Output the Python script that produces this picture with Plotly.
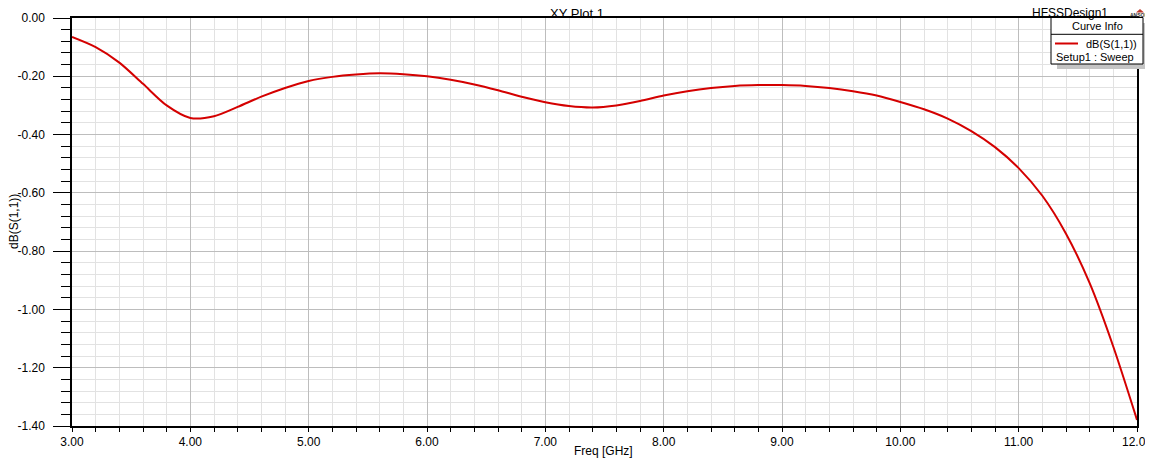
import plotly.graph_objects as go

# ---- data ----
freq_ghz = [3.0, 3.2, 3.4, 3.6, 3.8, 4.0, 4.2, 4.4, 4.6, 4.8, 5.0, 5.2, 5.4, 5.6, 5.8,
            6.0, 6.2, 6.4, 6.6, 6.8, 7.0, 7.2, 7.4, 7.6, 7.8, 8.0, 8.2, 8.4, 8.6, 8.8,
            9.0, 9.2, 9.4, 9.6, 9.8, 10.0, 10.2, 10.4, 10.6, 10.8, 11.0, 11.2, 11.4,
            11.6, 11.8, 12.0]
db_s11 = [-0.065, -0.100, -0.153, -0.226, -0.300, -0.343, -0.337, -0.305, -0.270,
          -0.240, -0.216, -0.202, -0.194, -0.190, -0.193,
          -0.200, -0.212, -0.228, -0.248, -0.270, -0.289, -0.302, -0.307, -0.300,
          -0.285, -0.266, -0.251, -0.240, -0.233, -0.230,
          -0.230, -0.233, -0.240, -0.251, -0.266, -0.288, -0.313, -0.345, -0.388,
          -0.443, -0.515, -0.610, -0.740, -0.910, -1.128, -1.379]
x_ticks = [3, 4, 5, 6, 7, 8, 9, 10, 11, 12]
y_ticks = [0.0, -0.2, -0.4, -0.6, -0.8, -1.0, -1.2, -1.4]

W, H = 1153, 461
OFF = 8  # page body margin in the browser
ML, MR, MT, MB = 64, 24, 10, 43
PW, PH = W - ML - MR, H - MT - MB
FONT = "Arial, Liberation Sans, sans-serif"
RED = "#d40000"


def px(xs):
    # screenshot x pixel -> paper coordinate
    return (xs - OFF - ML) / PW


def py(ys):
    # screenshot y pixel -> paper coordinate
    return (H - MB - (ys - OFF)) / PH


fig = go.Figure()
fig.add_trace(go.Scatter(x=freq_ghz, y=db_s11, mode="lines",
                         line=dict(color=RED, width=2, shape="spline", smoothing=0.8),
                         showlegend=False, hoverinfo="x+y"))

fig.update_layout(
    width=W, height=H,
    margin=dict(l=ML, r=MR, t=MT, b=MB, pad=0, autoexpand=False),
    paper_bgcolor="white", plot_bgcolor="white",
    font=dict(family=FONT, size=12, color="black"),
    showlegend=False,
)
fig.update_xaxes(
    range=[3, 12], tickvals=x_ticks, ticktext=[f"{v:.2f}" for v in x_ticks],
    automargin=False,
    showline=True, linecolor="black", linewidth=1.5, mirror=True,
    ticks="outside", ticklen=4, tickcolor="black", tickwidth=1,
    showgrid=True, gridcolor="#bdbdbd", gridwidth=1, zeroline=False,
    minor=dict(dtick=0.2, ticks="outside", ticklen=4, tickcolor="black",
               showgrid=True, gridcolor="#e2e2e2", gridwidth=1),
    tickfont=dict(size=12),
)
fig.update_yaxes(
    range=[-1.4, 0], tickvals=y_ticks, ticktext=[f"{v:.2f}" for v in y_ticks],
    automargin=False,
    showline=True, linecolor="black", linewidth=1.5, mirror=True,
    ticks="outside", ticklen=17, tickcolor="black", tickwidth=1,
    ticklabelstandoff=6,
    showgrid=True, gridcolor="#bdbdbd", gridwidth=1, zeroline=False,
    minor=dict(dtick=0.04, ticks="outside", ticklen=9, tickcolor="black",
               showgrid=True, gridcolor="#e2e2e2", gridwidth=1),
    tickfont=dict(size=12),
)

ann = []
# axis titles
ann.append(dict(text="Freq [GHz]", xref="paper", yref="paper", x=px(603), y=py(451),
                xanchor="center", yanchor="middle", showarrow=False,
                font=dict(size=12, family=FONT)))
ann.append(dict(text="dB(S(1,1))", xref="paper", yref="paper", x=px(14), y=py(222),
                xanchor="center", yanchor="middle", showarrow=False, textangle=-90,
                font=dict(size=12, family=FONT)))
# titles at the top
ann.append(dict(text="XY Plot 1", xref="paper", yref="paper", x=px(577), y=py(13),
                xanchor="center", yanchor="middle", showarrow=False,
                font=dict(size=13, family=FONT)))
ann.append(dict(text="HFSSDesign1", xref="paper", yref="paper", x=px(1070), y=py(13),
                xanchor="center", yanchor="middle", showarrow=False,
                font=dict(size=12, family=FONT)))
ann.append(dict(text="<b>ANSOFT</b>", xref="paper", yref="paper", x=px(1140), y=py(15),
                xanchor="center", yanchor="middle", showarrow=False,
                font=dict(size=5, family=FONT, color="#333333")))
# legend box text
ann.append(dict(text="Curve Info", xref="paper", yref="paper", x=px(1097), y=py(26),
                xanchor="center", yanchor="middle", showarrow=False,
                font=dict(size=11, family=FONT)))
ann.append(dict(text="dB(S(1,1))", xref="paper", yref="paper", x=px(1139), y=py(44),
                xanchor="right", yanchor="middle", showarrow=False,
                font=dict(size=11, family=FONT)))
ann.append(dict(text="Setup1 : Sweep", xref="paper", yref="paper", x=px(1054), y=py(57),
                xanchor="left", yanchor="middle", showarrow=False,
                font=dict(size=11, family=FONT)))
fig.update_layout(annotations=ann)

shapes = []
# small ansoft logo triangle
shapes.append(dict(type="path", xref="paper", yref="paper",
                   path=f"M {px(1136)} {py(12.5)} L {px(1140)} {py(9)} L {px(1144)} {py(12.5)} Z",
                   fillcolor="#c0392b", line=dict(width=0)))
# legend shadow and box
shapes.append(dict(type="rect", xref="paper", yref="paper",
                   x0=px(1057), x1=px(1149), y0=py(69), y1=py(23),
                   fillcolor="#c4c4c4", line=dict(width=0)))
shapes.append(dict(type="rect", xref="paper", yref="paper",
                   x0=px(1051), x1=px(1143), y0=py(64), y1=py(17.5),
                   fillcolor="white", line=dict(color="black", width=1)))
shapes.append(dict(type="line", xref="paper", yref="paper",
                   x0=px(1051), x1=px(1143), y0=py(34.3), y1=py(34.3),
                   line=dict(color="black", width=1)))
shapes.append(dict(type="line", xref="paper", yref="paper",
                   x0=px(1055), x1=px(1078), y0=py(43.5), y1=py(43.5),
                   line=dict(color=RED, width=2)))
fig.update_layout(shapes=shapes)

fig.write_html("out.html")
